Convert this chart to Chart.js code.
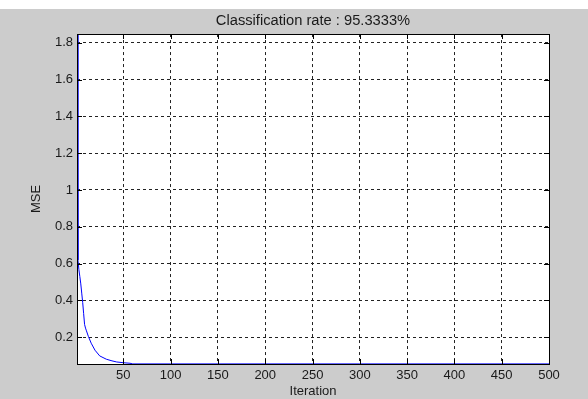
<!DOCTYPE html>
<html>
<head>
<meta charset="utf-8">
<script src="https://cdn.jsdelivr.net/npm/chart.js@4"></script>
<style>
  html, body { margin: 0; padding: 0; background: #ffffff; }
  #wrap { position: absolute; left: 0; top: 9px; width: 588px; height: 390px; background: #cccccc; }
</style>
</head>
<body>
<div id="wrap"><canvas id="mseChart" width="588" height="390"></canvas></div>
<script>
const iterations = [1, 2, 3, 4, 5, 6, 7, 8, 9, 10, 11, 13, 16, 20, 25, 32, 38, 43, 50, 57, 60, 100, 200, 300, 400, 500];
const mseValues = [1.847, 0.62, 0.567, 0.53, 0.49, 0.44, 0.39, 0.33, 0.27, 0.25, 0.235, 0.205, 0.168, 0.13, 0.099, 0.081, 0.072, 0.066, 0.062, 0.059, 0.0555, 0.0555, 0.0555, 0.0555, 0.0555, 0.0555];
const xTicks = [50, 100, 150, 200, 250, 300, 350, 400, 450, 500];
const yTicks = [0.2, 0.4, 0.6, 0.8, 1.0, 1.2, 1.4, 1.6, 1.8];
const yTickLabels = ["0.2", "0.4", "0.6", "0.8", "1", "1.2", "1.4", "1.6", "1.8"];

const FONT = "'Liberation Sans', Arial, sans-serif";
const TEXT = "#1a1a1a";

// box round the axes plus the short inward tick marks, matlab style
const boxPlugin = {
    id: "box",
    afterDatasetsDraw(chart) {
        const ctx = chart.ctx;
        const a = chart.chartArea;
        const xs = chart.scales.x, ys = chart.scales.y;
        ctx.save();
        ctx.strokeStyle = "#000000";
        ctx.lineWidth = 1;
        ctx.beginPath();
        xTicks.forEach(v => {
            const px = Math.round(xs.getPixelForValue(v)) + 0.5;
            ctx.moveTo(px, a.bottom); ctx.lineTo(px, a.bottom - 5);
            ctx.moveTo(px, a.top); ctx.lineTo(px, a.top + 5);
        });
        yTicks.forEach(v => {
            const py = Math.round(ys.getPixelForValue(v)) + 0.5;
            ctx.moveTo(a.left, py); ctx.lineTo(a.left + 5, py);
            ctx.moveTo(a.right, py); ctx.lineTo(a.right - 5, py);
        });
        ctx.stroke();
        ctx.strokeRect(Math.round(a.left) + 0.5, Math.round(a.top) + 0.5,
            Math.round(a.right - a.left), Math.round(a.bottom - a.top));
        ctx.restore();
    }
};

const whiteArea = {
    id: "whiteArea",
    beforeDraw(chart) {
        const a = chart.chartArea;
        chart.ctx.save();
        chart.ctx.fillStyle = "#ffffff";
        chart.ctx.fillRect(a.left, a.top, a.right - a.left, a.bottom - a.top);
        chart.ctx.restore();
    }
};

const mseChart = new Chart(document.getElementById("mseChart"), {
    type: "line",
    data: {
        datasets: [{
            data: iterations.map((it, i) => ({ x: it, y: mseValues[i] })),
            borderColor: "rgb(0, 0, 255)",
            borderWidth: 1,
            pointRadius: 0,
            tension: 0,
            fill: false,
        }],
    },
    options: {
        responsive: false,
        animation: false,
        layout: { padding: { top: 0, right: 39, left: 0, bottom: 0 } },
        plugins: {
            legend: { display: false },
            tooltip: { enabled: false },
            title: {
                display: true,
                text: "Classification rate : 95.3333%",
                fullSize: false,
                color: TEXT,
                font: { family: FONT, size: 14.7, weight: "normal", lineHeight: 1.2 },
                padding: { top: 2.7, bottom: 4.7 },
            },
        },
        scales: {
            x: {
                type: "linear",
                min: 1,
                max: 500,
                afterBuildTicks: s => { s.ticks = xTicks.map(v => ({ value: v })); },
                afterFit: s => { s.height = 35; },
                grid: { color: "#222222", drawTicks: false },
                border: { display: false, dash: [3, 3] },
                ticks: { color: TEXT, padding: 4, maxRotation: 0, font: { family: FONT, size: 13 } },
                title: {
                    display: true, text: "Iteration", color: TEXT,
                    font: { family: FONT, size: 13 }, padding: { top: 0, bottom: 0 },
                },
            },
            y: {
                type: "linear",
                min: 0.055,
                max: 1.847,
                afterBuildTicks: s => { s.ticks = yTicks.map(v => ({ value: v })); },
                afterFit: s => { s.width = 77; },
                grid: { color: "#222222", drawTicks: false },
                border: { display: false, dash: [3, 3] },
                ticks: {
                    color: TEXT, padding: 4, font: { family: FONT, size: 13 },
                    callback: (v, i) => yTickLabels[i],
                },
                title: {
                    display: true, text: "MSE", color: TEXT,
                    font: { family: FONT, size: 13 }, padding: { top: 29, bottom: 0 },
                },
            },
        },
    },
    plugins: [whiteArea, boxPlugin],
});
</script>
</body>
</html>
